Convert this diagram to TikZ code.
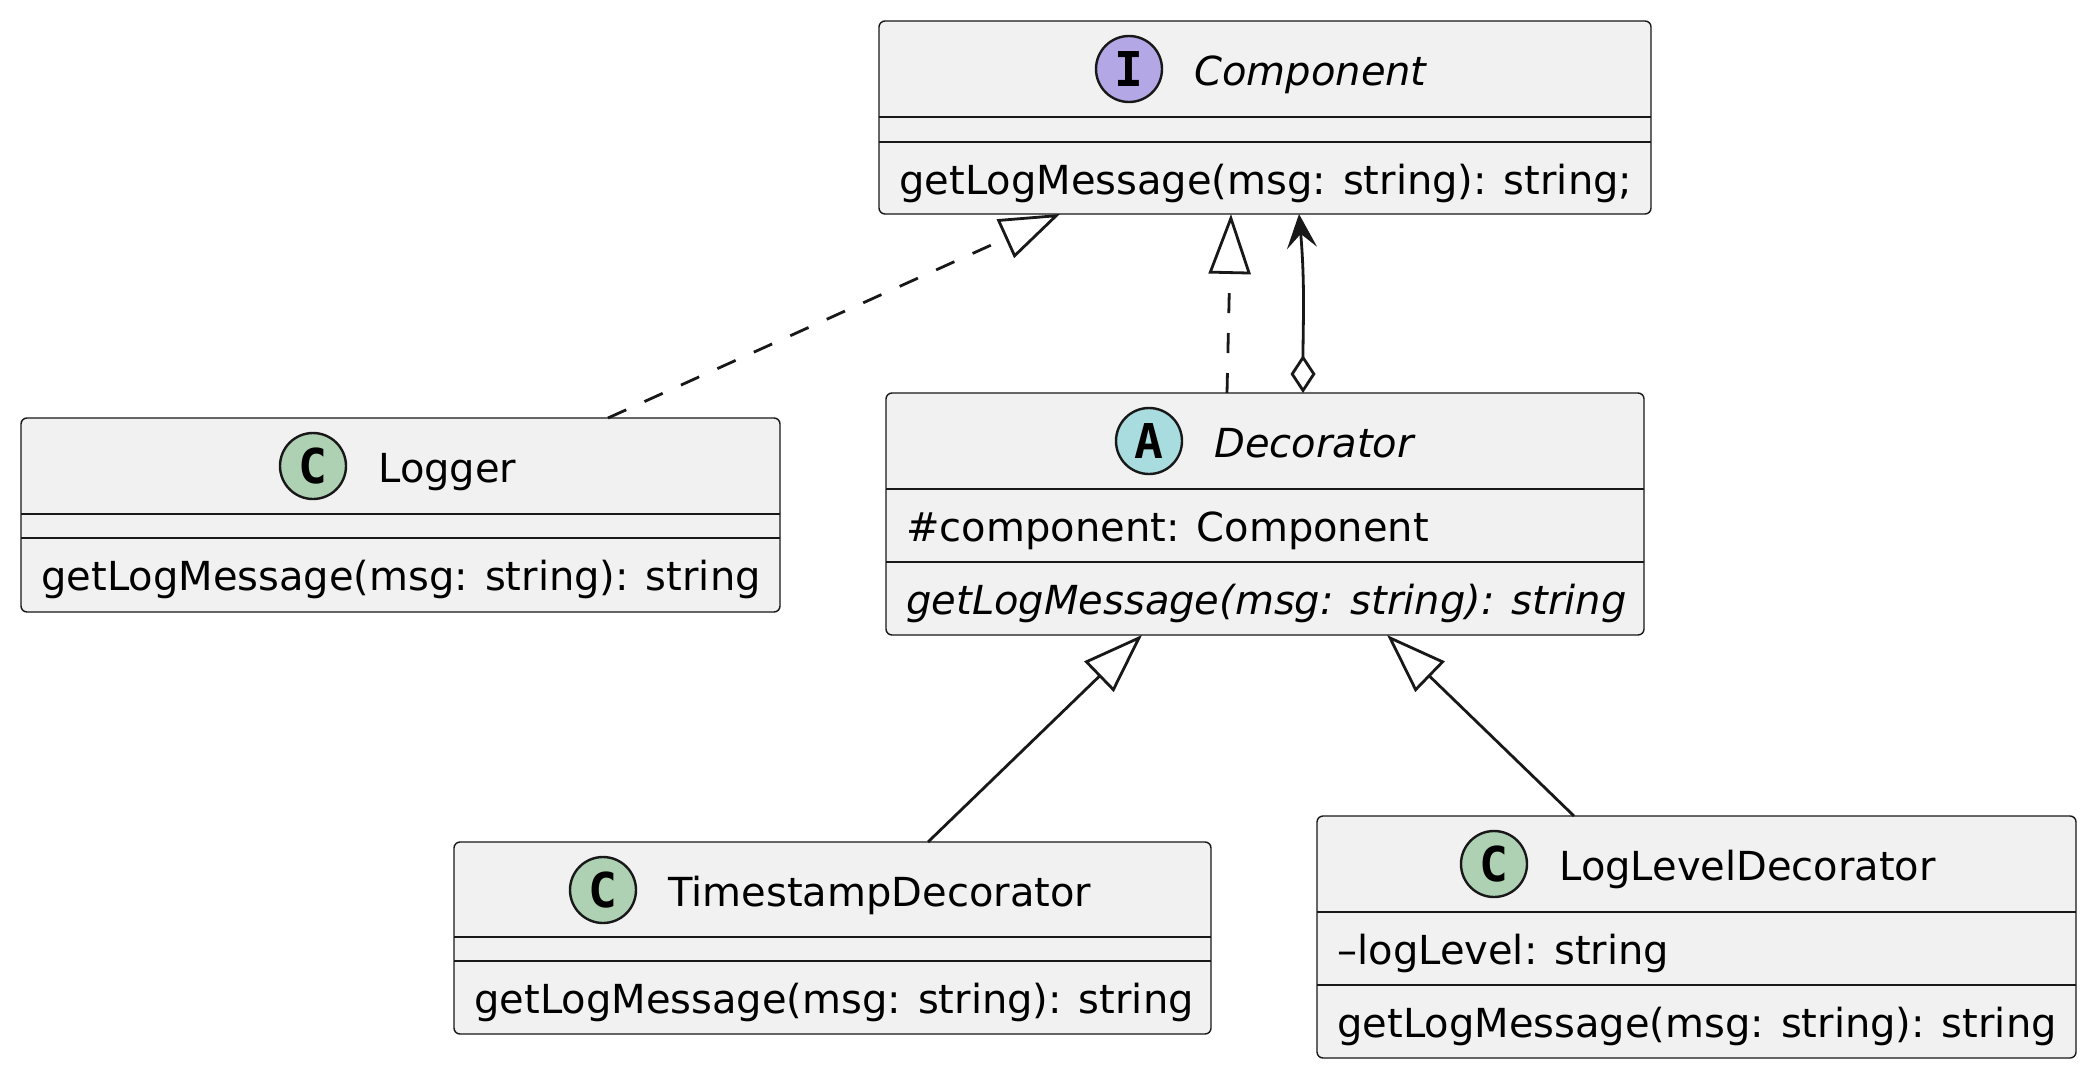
\documentclass[tikz,border=0pt]{standalone}
\usepackage{fontspec}
\setmainfont{DejaVu Sans}
\newfontfamily\badgefont{DejaVu Sans Mono}
\usetikzlibrary{arrows.meta,positioning}
\definecolor{boxfill}{HTML}{F1F1F1}
\definecolor{boxline}{HTML}{181818}
\definecolor{ifacebg}{HTML}{B4A7E5}
\definecolor{classbg}{HTML}{ADD1B2}
\definecolor{abstbg}{HTML}{A9DCDF}

\begin{document}
\begin{tikzpicture}[
  x=0.5pt, y=-0.5pt,
  cls/.style={draw=boxline, fill=boxfill, line width=0.7pt, rounded corners=3pt, inner sep=0pt, outer sep=0pt},
  divider/.style={draw=boxline, line width=0.7pt},
  badge/.style={circle, draw=boxline, line width=1.2pt, minimum size=33pt, inner sep=0pt, font=\badgefont\bfseries\fontsize{24pt}{24pt}\selectfont},
  ttl/.style={inner sep=0pt, anchor=base west, font=\fontsize{20pt}{24pt}\selectfont},
  mbr/.style={inner sep=0pt, anchor=base west, font=\fontsize{20pt}{24pt}\selectfont},
  real/.style={draw=boxline, line width=1.4pt, dash pattern=on 10pt off 10pt, -{Triangle[open, length=30pt, width=21pt]}},
  gen/.style={draw=boxline, line width=1.4pt, -{Triangle[open, length=30pt, width=21pt]}},
  aggr/.style={draw=boxline, line width=1.4pt, {Diamond[open, length=19pt, width=12.5pt]}-{Stealth[length=17pt, width=15pt, inset=7pt]}}
]
\path[use as bounding box, fill=white] (0,0) rectangle (2094,1076);

\node[cls, minimum width=386pt, minimum height=96.5pt] (comp) at (1265,117.5) {};
\draw[divider] ([yshift=-48pt]comp.north west) -- ([yshift=-48pt]comp.north east);
\draw[divider] ([yshift=-60.5pt]comp.north west) -- ([yshift=-60.5pt]comp.north east);
\node[badge, fill=ifacebg] (comp-b) at ([xshift=-68pt, yshift=-24pt]comp.north) {I};
\node[ttl] (comp-t) at ([xshift=32.5pt, yshift=-8pt]comp-b.center) {\itshape Component};
\node[mbr] (comp-m) at ([xshift=10pt, yshift=-86.5pt]comp.north west) {getLogMessage(msg: string): string;};

\node[cls, minimum width=379.5pt, minimum height=97pt] (logger) at (400.5,515) {};
\draw[divider] ([yshift=-48pt]logger.north west) -- ([yshift=-48pt]logger.north east);
\draw[divider] ([yshift=-60pt]logger.north west) -- ([yshift=-60pt]logger.north east);
\node[badge, fill=classbg] (logger-b) at ([xshift=-43.75pt, yshift=-24pt]logger.north) {C};
\node[ttl] (logger-t) at ([xshift=32.5pt, yshift=-8pt]logger-b.center) {Logger};
\node[mbr] (logger-m) at ([xshift=10pt, yshift=-86pt]logger.north west) {getLogMessage(msg: string): string};

\node[cls, minimum width=379pt, minimum height=121pt] (deco) at (1265,514) {};
\draw[divider] ([yshift=-48pt]deco.north west) -- ([yshift=-48pt]deco.north east);
\draw[divider] ([yshift=-84.5pt]deco.north west) -- ([yshift=-84.5pt]deco.north east);
\node[badge, fill=abstbg] (deco-b) at ([xshift=-58pt, yshift=-24pt]deco.north) {A};
\node[ttl] (deco-t) at ([xshift=32.5pt, yshift=-8pt]deco-b.center) {\itshape Decorator};
\node[mbr] (deco-a) at ([xshift=10pt, yshift=-74pt]deco.north west) {\#component: Component};
\node[mbr] (deco-m) at ([xshift=10pt, yshift=-110.5pt]deco.north west) {\itshape getLogMessage(msg: string): string};

\node[cls, minimum width=378.5pt, minimum height=96pt] (stamp) at (832.5,938) {};
\draw[divider] ([yshift=-47.5pt]stamp.north west) -- ([yshift=-47.5pt]stamp.north east);
\draw[divider] ([yshift=-59.5pt]stamp.north west) -- ([yshift=-59.5pt]stamp.north east);
\node[badge, fill=classbg] (stamp-b) at ([xshift=-114.75pt, yshift=-24pt]stamp.north) {C};
\node[ttl] (stamp-t) at ([xshift=32.5pt, yshift=-8pt]stamp-b.center) {TimestampDecorator};
\node[mbr] (stamp-m) at ([xshift=10pt, yshift=-85.5pt]stamp.north west) {getLogMessage(msg: string): string};

\node[cls, minimum width=379.5pt, minimum height=121pt] (level) at (1696.5,937) {};
\draw[divider] ([yshift=-48pt]level.north west) -- ([yshift=-48pt]level.north east);
\draw[divider] ([yshift=-84.5pt]level.north west) -- ([yshift=-84.5pt]level.north east);
\node[badge, fill=classbg] (level-b) at ([xshift=-101.25pt, yshift=-24pt]level.north) {C};
\node[ttl] (level-t) at ([xshift=32.5pt, yshift=-8pt]level-b.center) {LogLevelDecorator};
\node[mbr] (level-a) at ([xshift=10pt, yshift=-74pt]level.north west) {--logLevel: string};
\node[mbr] (level-m) at ([xshift=10pt, yshift=-110.5pt]level.north west) {getLogMessage(msg: string): string};

\draw[real] ([xshift=103.75pt]logger.north) -- ([xshift=-102.5pt]comp.south);
\draw[real] ([xshift=-19pt]deco.north) -- ([xshift=-17pt]comp.south);
\draw[aggr] ([xshift=19pt]deco.north) to[out=90, in=-85] ([xshift=17pt]comp.south);
\draw[gen] ([xshift=47.75pt]stamp.north) -- ([xshift=-61.5pt]deco.south);
\draw[gen] ([xshift=-61.25pt]level.north) -- ([xshift=61pt]deco.south);
\end{tikzpicture}
\end{document}
